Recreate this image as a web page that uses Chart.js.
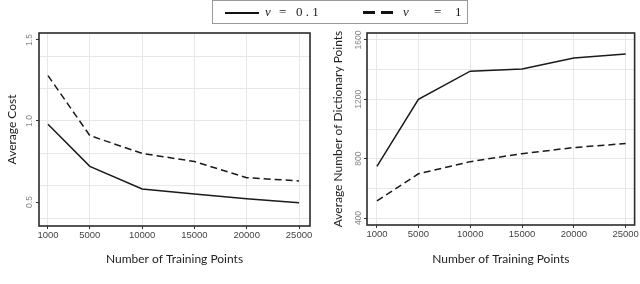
<!DOCTYPE html>
<html>
<head>
<meta charset="utf-8">
<script src="https://cdn.jsdelivr.net/npm/chart.js@4.4.1/dist/chart.umd.min.js"></script>
<style>
  body { margin: 0; width: 640px; height: 284px; background: #fff; position: relative; overflow: hidden; }
  canvas { position: absolute; top: 0; }
  #c1 { left: 0; }
  #c2 { left: 320px; }
  .legend { position: absolute; left: 212px; top: 0; width: 256px; height: 24px; box-sizing: border-box;
    border: 1px solid #999; font-family: "Liberation Serif", serif; font-size: 13px; color: #222; }
  .legend span { position: absolute; top: 3px; white-space: pre; }
  .solid { position: absolute; left: 12px; top: 11px; width: 34px; border-top: 2px solid #111; }
  .dash { position: absolute; top: 10px; width: 12px; border-top: 3px solid #111; }
</style>
</head>
<body>
<canvas id="c1" width="320" height="270"></canvas>
<canvas id="c2" width="320" height="270"></canvas>
<div class="legend">
  <div class="solid"></div><span style="left:52px;font-style:italic">ν</span><span style="left:66px">=   0 . 1</span>
  <div class="dash" style="left:150px"></div><div class="dash" style="left:168px"></div>
  <span style="left:190px;font-style:italic">ν</span><span style="left:221px">=</span><span style="left:242px">1</span>
</div>
<script>
const trainingPoints = [1000, 5000, 10000, 15000, 20000, 25000];
const costNu01 = [0.98, 0.72, 0.58, 0.55, 0.52, 0.495];
const costNu1 = [1.28, 0.91, 0.80, 0.75, 0.65, 0.63];
const dictNu01 = [748, 1200, 1390, 1404, 1478, 1505];
const dictNu1 = [515, 698, 780, 834, 875, 902];

const costLabels = [0.5, 1.0, 1.5];
const costGrid = [0.4, 0.6, 0.8, 1.0, 1.2, 1.4];
const dictLabels = [400, 800, 1200, 1600];
const dictGrid = [400, 600, 800, 1000, 1200, 1400, 1600];

const gridCol = '#e8e8e8';

const frame = {
  id: 'frame',
  afterDraw(chart) {
    const { ctx, chartArea: a } = chart;
    ctx.save();
    ctx.strokeStyle = '#2b2b2b';
    ctx.lineWidth = 1.6;
    ctx.strokeRect(a.left, a.top, a.right - a.left, a.bottom - a.top);
    ctx.restore();
  }
};

function pts(ys) {
  return trainingPoints.map((x, i) => ({ x: x, y: ys[i] }));
}

function makeChart(el, opts) {
  return new Chart(el, {
    type: 'line',
    data: {
      datasets: [
        { label: 'ν = 0.1', data: pts(opts.solid), borderColor: '#1a1a1a', borderWidth: 1.5, pointRadius: 0, tension: 0 },
        { label: 'ν = 1', data: pts(opts.dashed), borderColor: '#1a1a1a', borderWidth: 1.5, borderDash: [7, 4], pointRadius: 0, tension: 0 }
      ]
    },
    options: {
      responsive: false,
      animation: false,
      layout: { padding: { top: 33, right: opts.rightPad, bottom: 0, left: 0 } },
      plugins: { legend: { display: false }, tooltip: { enabled: false } },
      scales: {
        x: {
          type: 'linear',
          min: opts.xMin, max: opts.xMax,
          afterBuildTicks: s => { s.ticks = trainingPoints.map(v => ({ value: v })); },
          afterFit: s => { s.height = opts.xHeight; },
          ticks: { color: '#444', font: { family: 'Liberation Sans', size: 9.5 }, padding: 1, maxRotation: 0,
            callback: v => String(v) },
          grid: { color: gridCol, tickColor: '#333', tickLength: 3 },
          border: { display: false },
          title: { display: true, text: 'Number of Training Points', color: '#222',
            font: { family: 'Lato', size: 12 }, padding: { top: 0, bottom: 4 } }
        },
        y: {
          min: opts.yMin, max: opts.yMax,
          afterBuildTicks: s => {
            const vals = [...new Set(opts.grid.concat(opts.labels))].sort((a, b) => a - b);
            s.ticks = vals.map(v => ({ value: v }));
          },
          afterFit: s => { s.width = opts.yWidth; },
          ticks: { color: '#888', font: { family: 'Liberation Sans', size: 8.5 }, padding: opts.tickPad,
            minRotation: 90, maxRotation: 90, crossAlign: 'center',
            callback: v => opts.labels.includes(v) ? opts.fmt(v) : '' },
          grid: {
            color: c => opts.grid.includes(c.tick.value) ? gridCol : 'rgba(0,0,0,0)',
            tickColor: c => opts.labels.includes(c.tick.value) ? '#333' : 'rgba(0,0,0,0)',
            tickLength: 3
          },
          border: { display: false },
          title: { display: true, text: opts.yTitle, color: '#222',
            font: { family: 'Lato', size: 12 }, padding: { top: opts.titlePad, bottom: 0 } }
        }
      }
    },
    plugins: [frame]
  });
}

makeChart(document.getElementById('c1'), {
  solid: costNu01, dashed: costNu1,
  xMin: 140, xMax: 26050, yMin: 0.352, yMax: 1.543,
  labels: costLabels, grid: costGrid, fmt: v => v.toFixed(1),
  yTitle: 'Average Cost', yWidth: 39, rightPad: 10, xHeight: 44, tickPad: 0, titlePad: 5
});

makeChart(document.getElementById('c2'), {
  solid: dictNu01, dashed: dictNu1,
  xMin: 40, xMax: 25860, yMin: 353, yMax: 1647,
  labels: dictLabels, grid: dictGrid, fmt: v => String(v),
  yTitle: 'Average Number of Dictionary Points', yWidth: 47, rightPad: 3, xHeight: 45, tickPad: -4, titlePad: 11
});
</script>
</body>
</html>
